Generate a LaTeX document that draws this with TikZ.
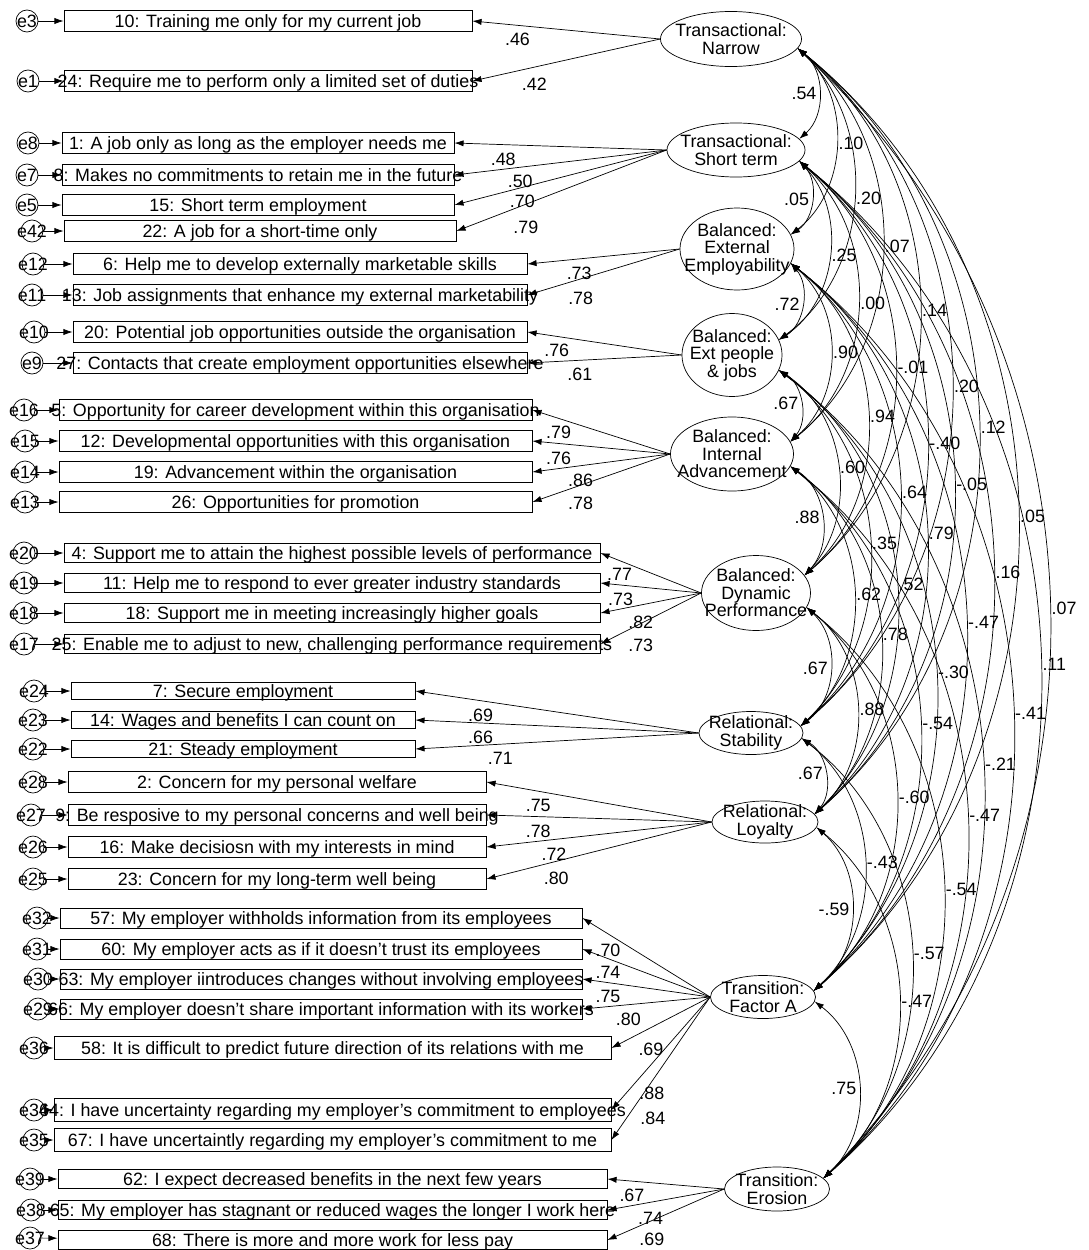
\documentclass[tikz,border=0pt]{standalone}
\usepackage{fontspec}
\setmainfont{Liberation Sans}
\usetikzlibrary{arrows.meta, shapes.geometric}
\newcommand{\itm}[1]{\makebox[0pt]{#1}}

\begin{document}
\begin{tikzpicture}[x=0.025cm, y=-0.025cm, line width=0.5pt,
  font=\fontsize{12.7}{12.5}\selectfont, >={Latex[length=6.5pt, width=4.4pt]},
  item/.style={draw, rectangle, inner sep=0pt, text depth=0pt},
  itN/.style={item, minimum width=10.2cm, minimum height=0.525cm},
  itS/.style={item, minimum width=9.8cm, minimum height=0.525cm},
  itE/.style={item, minimum width=11.35cm, minimum height=0.525cm},
  itIA/.style={item, minimum width=11.825cm, minimum height=0.525cm},
  itDP/.style={item, minimum width=13.4cm, minimum height=0.475cm},
  itRS/.style={item, minimum width=8.6cm, minimum height=0.425cm},
  itRL/.style={item, minimum width=10.45cm, minimum height=0.525cm},
  itFA/.style={item, minimum width=13.05cm, minimum height=0.5cm},
  itFB/.style={item, minimum width=13.925cm, minimum height=0.575cm},
  itTE/.style={item, minimum width=13.725cm, minimum height=0.475cm},
  err/.style={draw, circle, inner sep=0pt, minimum size=0.55cm},
  fac/.style={draw, ellipse, inner sep=0pt},
  ld/.style={below, inner sep=5.5pt},
  cv/.style={inner sep=1.5pt},
  cov/.style={bend left=50}]
\useasboundingbox (0,0) rectangle (1088,1250);

% factors
\node[fac, minimum width=3.525cm, minimum height=1.375cm, label={[align=center]center:{Transactional:\\Narrow}}] (fN) at (731,39) {};
\node[fac, minimum width=3.45cm, minimum height=1.35cm, label={[align=center]center:{Transactional:\\Short term}}] (fS) at (736,150) {};
\node[fac, minimum width=2.85cm, minimum height=2.05cm, label={[align=center]center:{Balanced:\\External\\Employability}}] (fEE) at (737,249) {};
\node[fac, minimum width=2.5cm, minimum height=2.075cm, label={[align=center]center:{Balanced:\\Ext people\\\& jobs}}] (fEP) at (732,355) {};
\node[fac, minimum width=3.075cm, minimum height=1.85cm, label={[align=center]center:{Balanced:\\Internal\\Advancement}}] (fIA) at (732,454) {};
\node[fac, minimum width=2.725cm, minimum height=1.875cm, label={[align=center]center:{Balanced:\\Dynamic\\Performance}}] (fDP) at (756,593) {};
\node[fac, minimum width=2.6cm, minimum height=1.075cm, label={[align=center]center:{Relational:\\Stability}}] (fRS) at (751,733) {};
\node[fac, minimum width=2.65cm, minimum height=1.05cm, label={[align=center]center:{Relational:\\Loyalty}}] (fRL) at (765,822) {};
\node[fac, minimum width=2.625cm, minimum height=1.075cm, label={[align=center]center:{Transition:\\Factor A}}] (fFA) at (763,997) {};
\node[fac, minimum width=2.625cm, minimum height=1.1cm, label={[align=center]center:{Transition:\\Erosion}}] (fTE) at (777,1189) {};

% items
\node[itN] (b10) at (268,21) {\itm{10: Training me only for my current job}};
\node[itN] (b24) at (268,81) {\itm{24: Require me to perform only a limited set of duties}};
\node[itS] (b1) at (258,143) {\itm{1: A job only as long as the employer needs me}};
\node[itS] (b8) at (258,175) {\itm{8: Makes no commitments to retain me in the future}};
\node[itS] (b15) at (258,205) {\itm{15: Short term employment}};
\node[itS] (b22) at (260,231) {\itm{22: A job for a short-time only}};
\node[itE] (b6) at (300,264) {\itm{6: Help me to develop externally marketable skills}};
\node[itE] (b13) at (300,295) {\itm{13: Job assignments that enhance my external marketability}};
\node[itE] (b20) at (300,332) {\itm{20: Potential job opportunities outside the organisation}};
\node[itE] (b27) at (300,363) {\itm{27: Contacts that create employment opportunities elsewhere}};
\node[itIA] (b5) at (295.5,410) {\itm{5: Opportunity for career development within this organisation}};
\node[itIA] (b12) at (295.5,441) {\itm{12: Developmental opportunities with this organisation}};
\node[itIA] (b19) at (295.5,472) {\itm{19: Advancement within the organisation}};
\node[itIA] (b26) at (295.5,502) {\itm{26: Opportunities for promotion}};
\node[itDP] (b4) at (332,553) {\itm{4: Support me to attain the highest possible levels of performance}};
\node[itDP] (b11) at (332,583) {\itm{11: Help me to respond to ever greater industry standards}};
\node[itDP] (b18) at (332,613) {\itm{18: Support me in meeting increasingly higher goals}};
\node[itDP] (b25) at (332,644) {\itm{25: Enable me to adjust to new, challenging performance requirements}};
\node[itRS] (b7) at (243,691) {\itm{7: Secure employment}};
\node[itRS] (b14) at (243,720) {\itm{14: Wages and benefits I can count on}};
\node[itRS] (b21) at (243,749) {\itm{21: Steady employment}};
\node[itRL] (b2) at (277,782) {\itm{2: Concern for my personal welfare}};
\node[itRL] (b9) at (277,815) {\itm{9: Be resposive to my personal concerns and well being}};
\node[itRL] (b16) at (277,847) {\itm{16: Make decisiosn with my interests in mind}};
\node[itRL] (b23) at (277,879) {\itm{23: Concern for my long-term well being}};
\node[itFA] (b57) at (321,918) {\itm{57: My employer withholds information from its employees}};
\node[itFA] (b60) at (321,949) {\itm{60: My employer acts as if it doesn't trust its employees}};
\node[itFA] (b63) at (321,979) {\itm{63: My employer iintroduces changes without involving employees}};
\node[itFA] (b66) at (321,1009) {\itm{66: My employer doesn't share important information with its workers}};
\node[itFB] (b58) at (332.5,1048) {\itm{58: It is difficult to predict future direction of its relations with me}};
\node[itFB] (b64) at (332.5,1110) {\itm{64: I have uncertainty regarding my employer's commitment to employees}};
\node[itFB] (b67) at (332.5,1140) {\itm{67: I have uncertaintly regarding my employer's commitment to me}};
\node[itTE] (b62) at (332.5,1179) {\itm{62: I expect decreased benefits in the next few years}};
\node[itTE] (b65) at (332.5,1210) {\itm{65: My employer has stagnant or reduced wages the longer I work here}};
\node[itTE] (b68) at (332.5,1240) {\itm{68: There is more and more work for less pay}};

% errors
\node[err] (e3) at (27,21) {\itm{e3}};
\node[err] (e1) at (28,81) {\itm{e1}};
\node[err] (e8) at (28,143) {\itm{e8}};
\node[err] (e7) at (27,175) {\itm{e7}};
\node[err] (e5) at (27,205) {\itm{e5}};
\node[err] (e42) at (32,231) {\itm{e42}};
\node[err] (e12) at (33,264) {\itm{e12}};
\node[err] (e11) at (32,295) {\itm{e11}};
\node[err] (e10) at (34,332) {\itm{e10}};
\node[err] (e9) at (32,363) {\itm{e9}};
\node[err] (e16) at (24,410) {\itm{e16}};
\node[err] (e15) at (25,441) {\itm{e15}};
\node[err] (e14) at (25,472) {\itm{e14}};
\node[err] (e13) at (25,502) {\itm{e13}};
\node[err] (e20) at (24,553) {\itm{e20}};
\node[err] (e19) at (24,583) {\itm{e19}};
\node[err] (e18) at (24,613) {\itm{e18}};
\node[err] (e17) at (24,644) {\itm{e17}};
\node[err] (e24) at (34,691) {\itm{e24}};
\node[err] (e23) at (33,720) {\itm{e23}};
\node[err] (e22) at (33,749) {\itm{e22}};
\node[err] (e28) at (33,782) {\itm{e28}};
\node[err] (e27) at (31,815) {\itm{e27}};
\node[err] (e26) at (33,847) {\itm{e26}};
\node[err] (e25) at (33,879) {\itm{e25}};
\node[err] (e32) at (37,918) {\itm{e32}};
\node[err] (e31) at (37,949) {\itm{e31}};
\node[err] (e30) at (38,979) {\itm{e30}};
\node[err] (e29) at (38,1009) {\itm{e29}};
\node[err] (e36) at (34,1048) {\itm{e36}};
\node[err] (e34) at (34,1110) {\itm{e34}};
\node[err] (e35) at (34,1140) {\itm{e35}};
\node[err] (e39) at (30,1179) {\itm{e39}};
\node[err] (e38) at (31,1210) {\itm{e38}};
\node[err] (e37) at (30,1238) {\itm{e37}};

\draw [->] (e3) -- (b10);
\draw [->] (e1) -- (b24);
\draw [->] (e8) -- (b1);
\draw [->] (e7) -- (b8);
\draw [->] (e5) -- (b15);
\draw [->] (e42) -- (b22);
\draw [->] (e12) -- (b6);
\draw [->] (e11) -- (b13);
\draw [->] (e10) -- (b20);
\draw [->] (e9) -- (b27);
\draw [->] (e16) -- (b5);
\draw [->] (e15) -- (b12);
\draw [->] (e14) -- (b19);
\draw [->] (e13) -- (b26);
\draw [->] (e20) -- (b4);
\draw [->] (e19) -- (b11);
\draw [->] (e18) -- (b18);
\draw [->] (e17) -- (b25);
\draw [->] (e24) -- (b7);
\draw [->] (e23) -- (b14);
\draw [->] (e22) -- (b21);
\draw [->] (e28) -- (b2);
\draw [->] (e27) -- (b9);
\draw [->] (e26) -- (b16);
\draw [->] (e25) -- (b23);
\draw [->] (e32) -- (b57);
\draw [->] (e31) -- (b60);
\draw [->] (e30) -- (b63);
\draw [->] (e29) -- (b66);
\draw [->] (e36) -- (b58);
\draw [->] (e34) -- (b64);
\draw [->] (e35) -- (b67);
\draw [->] (e39) -- (b62);
\draw [->] (e38) -- (b65);
\draw [->] (e37) -- (b68);

% loadings
\draw [->] (fN.west) -- (b10.east) node[ld, pos=.76]{.46};
\draw [->] (fN.west) -- (b24.east) node[ld, pos=.67, yshift=-2pt]{.42};
\draw [->] (fS.west) -- (b1.east) node[ld, pos=.77]{.48};
\draw [->] (fS.west) -- (b8.east) node[ld, pos=.69]{.50};
\draw [->] (fS.west) -- (b15.east) node[ld, pos=.68]{.70};
\draw [->] (fS.west) -- (b22.east) node[ld, pos=.67, yshift=-6pt]{.79};
\draw [->] (fEE.west) -- (b6.east) node[ld, pos=.66]{.73};
\draw [->] (fEE.west) -- (b13.east) node[ld, pos=.65, yshift=-3.5pt]{.78};
\draw [->] (fEP.west) -- (b20.east) node[ld, pos=.81]{.76};
\draw [->] (fEP.west) -- (b27.east) node[ld, pos=.66]{.61};
\draw [->] (fIA.west) -- (b5.east) node[ld, pos=.81]{.79};
\draw [->] (fIA.west) -- (b12.east) node[ld, pos=.81]{.76};
\draw [->] (fIA.west) -- (b19.east) node[ld, pos=.65]{.86};
\draw [->] (fIA.west) -- (b26.east) node[ld, pos=.65, yshift=-3pt]{.78};
\draw [->] (fDP.west) -- (b4.east) node[ld, pos=.81]{.77};
\draw [->] (fDP.west) -- (b11.east) node[ld, pos=.80]{.73};
\draw [->] (fDP.west) -- (b18.east) node[ld, pos=.60, yshift=-2pt]{.82};
\draw [->] (fDP.west) -- (b25.east) node[ld, pos=.60, yshift=-5.5pt]{.73};
\draw [->] (fRS.west) -- (b7.east) node[ld, pos=.77]{.69};
\draw [->] (fRS.west) -- (b14.east) node[ld, pos=.77]{.66};
\draw [->] (fRS.west) -- (b21.east) node[ld, pos=.70]{.71};
\draw [->] (fRL.west) -- (b2.east) node[ld, pos=.77]{.75};
\draw [->] (fRL.west) -- (b9.east) node[ld, pos=.77]{.78};
\draw [->] (fRL.west) -- (b16.east) node[ld, pos=.70]{.72};
\draw [->] (fRL.west) -- (b23.east) node[ld, pos=.69, yshift=-2pt]{.80};
\draw [->] (fFA.west) -- (b57.east) node[ld, pos=.80, yshift=-1.5pt]{.70};
\draw [->] (fFA.west) -- (b60.east) node[ld, pos=.80]{.74};
\draw [->] (fFA.west) -- (b63.east) node[ld, pos=.80]{.75};
\draw [->] (fFA.west) -- (b66.east) node[ld, pos=.64]{.80};
\draw [->] (fFA.west) -- (b58.east) node[ld, pos=.60, yshift=-5pt]{.69};
\draw [->] (fFA.west) -- (b64.east) node[ld, pos=.59, yshift=-11pt]{.88};
\draw [->] (fFA.west) -- (b67.east) node[ld, pos=.58, yshift=-17pt]{.84};
\draw [->] (fTE.west) -- (b62.east) node[ld, pos=.79]{.67};
\draw [->] (fTE.west) -- (b65.east) node[ld, pos=.63, yshift=-1.5pt]{.74};
\draw [->] (fTE.west) -- (b68.east) node[ld, pos=.62, yshift=-3pt]{.69};

% correlations
\path [<->] (fN.-8) edge[cov] node[cv, left]{.54} (fS.10)
  edge[cov] node[cv, right]{.10} (fEE.15)
  edge[cov] node[cv, right]{.20} (fEP.18)
  edge[cov] node[cv, right]{.07} (fIA.12)
  edge[cov] node[cv, right]{.14} (fDP.20)
  edge[cov] node[cv, right]{.20} (fRS.8)
  edge[cov] node[cv, right]{.12} (fRL.9)
  edge[cov] node[cv, right]{.05} (fFA.7)
  edge[cov, bend left=46] node[cv, right]{.07} (fTE.13);
\path [<->] (fS.-10) edge[cov] node[cv, left]{.05} (fEE.15)
  edge[cov] node[cv, right]{.25} (fEP.18)
  edge[cov] node[cv, right]{.00} (fIA.12)
  edge[cov] node[cv, right]{-.01} (fDP.20)
  edge[cov] node[cv, right]{-.40} (fRS.8)
  edge[cov] node[cv, right]{-.05} (fRL.9)
  edge[cov] node[cv, right]{.16} (fFA.7)
  edge[cov] node[cv, right]{.11} (fTE.13);
\path [<->] (fEE.-15) edge[cov] node[cv, left]{.72} (fEP.18)
  edge[cov] node[cv, right]{.90} (fIA.12)
  edge[cov] node[cv, right]{.94} (fDP.20)
  edge[cov] node[cv, right]{.64} (fRS.8)
  edge[cov] node[cv, right]{.79} (fRL.9)
  edge[cov] node[cv, right]{-.47} (fFA.7)
  edge[cov] node[cv, right]{-.41} (fTE.13);
\path [<->] (fEP.-18) edge[cov] node[cv, left]{.67} (fIA.12)
  edge[cov] node[cv, right]{.60} (fDP.20)
  edge[cov] node[cv, right]{.35} (fRS.8)
  edge[cov] node[cv, right]{.52} (fRL.9)
  edge[cov] node[cv, right]{-.30} (fFA.7)
  edge[cov] node[cv, right]{-.21} (fTE.13);
\path [<->] (fIA.-12) edge[cov] node[cv, left]{.88} (fDP.20)
  edge[cov] node[cv, right]{.62} (fRS.8)
  edge[cov] node[cv, right]{.78} (fRL.9)
  edge[cov] node[cv, right]{-.54} (fFA.7)
  edge[cov] node[cv, right]{-.47} (fTE.13);
\path [<->] (fDP.-16) edge[cov] node[cv, left]{.67} (fRS.8)
  edge[cov] node[cv, right]{.88} (fRL.9)
  edge[cov] node[cv, right]{-.60} (fFA.7)
  edge[cov] node[cv, right]{-.54} (fTE.13);
\path [<->] (fRS.-6) edge[cov] node[cv, left]{.67} (fRL.9)
  edge[cov] node[cv, right]{-.43} (fFA.7)
  edge[cov] node[cv, right]{-.57} (fTE.13);
\path [<->] (fRL.-6) edge[cov] node[cv, left]{-.59} (fFA.7)
  edge[cov] node[cv, right]{-.47} (fTE.13);
\path [<->] (fFA.-5) edge[cov] node[cv, left]{.75} (fTE.13);
\end{tikzpicture}
\end{document}
